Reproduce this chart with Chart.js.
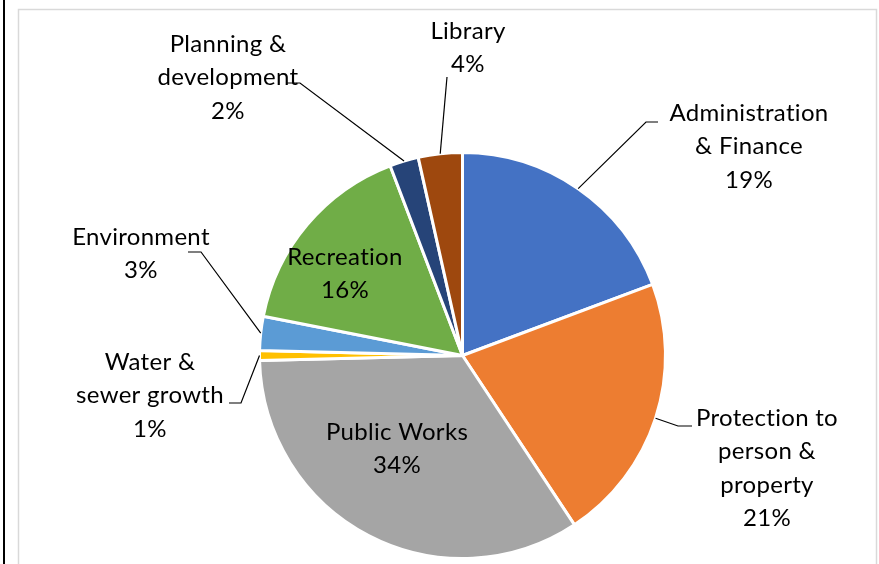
<!DOCTYPE html>
<html>
<head>
<meta charset="utf-8">
<script src="https://cdn.jsdelivr.net/npm/chart.js@4"></script>
<style>
    html, body { margin: 0; padding: 0; background: #ffffff; }
    #wrap { width: 879px; height: 564px; position: relative; }
</style>
</head>
<body>
<div id="wrap"><canvas id="budgetChart" width="879" height="564"></canvas></div>
<script>
// --- Chart data ---

const categories = [
    "Administration & Finance",
    "Protection to person & property",
    "Public Works",
    "Water & sewer growth",
    "Environment",
    "Recreation",
    "Planning & development",
    "Library"
];
const shares = [19.3, 21.4, 33.9, 0.8, 2.7, 16.1, 2.3, 3.5];
const percentLabels = ["19%", "21%", "34%", "1%", "3%", "16%", "2%", "4%"];
const labelLines = [
    ["Administration", "& Finance"],
    ["Protection to", "person &", "property"],
    ["Public Works"],
    ["Water &", "sewer growth"],
    ["Environment"],
    ["Recreation"],
    ["Planning &", "development"],
    ["Library"]
];
const sliceColors = ["#4472C4", "#ED7D31", "#A5A5A5", "#FFC000", "#5B9BD5", "#70AD47", "#264478", "#9E480E"];

// --- Label layout (text centre of first line, leader line bends) ---

const labelPos = [
    { x: 749, y: 113, leader: [[646, 122], [658, 122]] },
    { x: 767, y: 418, leader: [[678, 426], [692, 426]] },
    { x: 397, y: 432, leader: null },
    { x: 150, y: 362, leader: [[241, 403], [229, 403]] },
    { x: 141, y: 237, leader: [[201, 252], [188, 252]] },
    { x: 345, y: 257, leader: null },
    { x: 228, y: 44, leader: [[300, 83], [287, 83]] },
    { x: 468, y: 31, leader: [[447, 77]] }
];
const LINE_HEIGHT = 33.5;
const LABEL_FONT = "24px Lato";

// Background and frame lines
const framePlugin = {
    id: "frame",
    beforeDraw(chart) {
        const ctx = chart.ctx;
        ctx.save();
        ctx.fillStyle = "#ffffff";
        ctx.fillRect(0, 0, chart.width, chart.height);
        ctx.fillStyle = "#000000";
        ctx.fillRect(3, 0, 2, chart.height);
        ctx.strokeStyle = "#d9d9d9";
        ctx.lineWidth = 1.5;
        ctx.strokeRect(18.5, 9.5, 858, chart.height + 20);
        ctx.restore();
    }
};

// Data labels with leader lines
const labelPlugin = {
    id: "sliceLabels",
    afterDatasetsDraw(chart) {
        const ctx = chart.ctx;
        const arcs = chart.getDatasetMeta(0).data;
        ctx.save();
        ctx.font = LABEL_FONT;
        // a little spacing keeps Lato from joining "ti" into a ligature
        ctx.letterSpacing = "0.3px";
        ctx.fillStyle = "#000000";
        ctx.textAlign = "center";
        ctx.textBaseline = "middle";

        arcs.forEach((arc, i) => {
            const pos = labelPos[i];
            const lines = labelLines[i].concat([percentLabels[i]]);
            lines.forEach((text, n) => {
                ctx.fillText(text, pos.x, pos.y + n * LINE_HEIGHT);
            });

            if (!pos.leader) {
                return;
            }
            const { x, y, startAngle, endAngle, outerRadius } = arc.getProps(["x", "y", "startAngle", "endAngle", "outerRadius"], true);
            const mid = (startAngle + endAngle) / 2;
            ctx.beginPath();
            ctx.strokeStyle = "#000000";
            ctx.lineWidth = 1.2;
            ctx.moveTo(x + Math.cos(mid) * outerRadius, y + Math.sin(mid) * outerRadius);
            pos.leader.forEach(p => ctx.lineTo(p[0], p[1]));
            ctx.stroke();
        });
        ctx.restore();
    }
};

new Chart(document.getElementById("budgetChart"), {
    type: "pie",
    data: {
        labels: categories,
        datasets: [{
            data: shares,
            backgroundColor: sliceColors,
            borderColor: "#ffffff",
            borderWidth: 3
        }]
    },
    options: {
        responsive: false,
        animation: false,
        radius: 203,
        layout: {
            padding: { left: 46, right: 0, top: 147, bottom: 0 }
        },
        plugins: {
            legend: { display: false },
            tooltip: { enabled: false }
        }
    },
    plugins: [framePlugin, labelPlugin]
});
</script>
</body>
</html>
